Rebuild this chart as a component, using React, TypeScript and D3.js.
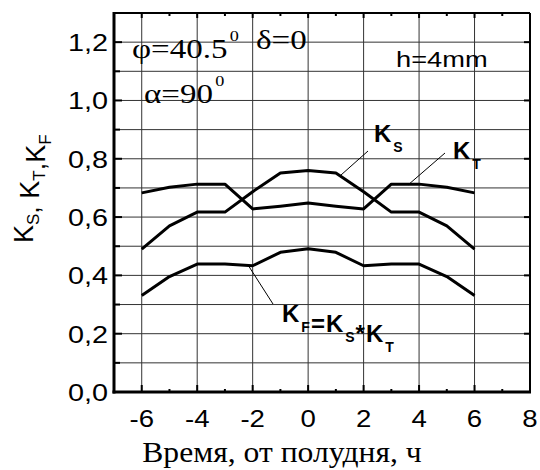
import React, { useEffect, useRef } from 'react';
import * as d3 from 'd3';

// hours from solar noon
const hours = [-6, -5, -4, -3, -2, -1, 0, 1, 2, 3, 4, 5, 6];
// K_S, K_T and their product K_F
const kS = [0.49, 0.57, 0.617, 0.617, 0.687, 0.751, 0.76, 0.751, 0.687, 0.617, 0.617, 0.57, 0.49];
const kT = [0.683, 0.702, 0.713, 0.713, 0.628, 0.637, 0.648, 0.637, 0.628, 0.713, 0.713, 0.702, 0.683];
const kF = [0.331, 0.396, 0.439, 0.439, 0.433, 0.479, 0.491, 0.479, 0.433, 0.439, 0.439, 0.396, 0.331];

const xTicks = [-6, -4, -2, 0, 2, 4, 6, 8];
const yTicks = [0, 0.2, 0.4, 0.6, 0.8, 1.0, 1.2];

const SANS = 'Liberation Sans, Arial, sans-serif';
const SERIF = 'Liberation Serif, Times New Roman, serif';

const W = 540;
const H = 470;

const App = () => {
  const ref = useRef<SVGSVGElement>(null);

  useEffect(() => {
    const svg = d3.select(ref.current);
    svg.selectAll('*').remove();

    const x = d3.scaleLinear().domain([-7, 8]).range([114, 530]);
    const y = d3.scaleLinear().domain([0, 1.3]).range([392, 13]);

    // grid
    const grid = svg.append('g').attr('stroke', '#333').attr('stroke-width', 1);
    grid.selectAll('line.v')
      .data(d3.range(-6, 7, 2))
      .enter()
      .append('line')
      .attr('x1', d => x(d)).attr('x2', d => x(d))
      .attr('y1', y(0)).attr('y2', y(1.3));
    grid.selectAll('line.h')
      .data(d3.range(1, 13).map(d => d / 10))
      .enter()
      .append('line')
      .attr('y1', d => y(d)).attr('y2', d => y(d))
      .attr('x1', x(-7)).attr('x2', x(8));

    // ticks (inward)
    const ticks = svg.append('g').attr('stroke', '#000');
    ticks.selectAll('line.yl')
      .data(d3.range(1, 13).map(d => d / 10))
      .enter()
      .append('line')
      .attr('stroke-width', 2)
      .attr('x1', x(-7)).attr('x2', (d, i) => x(-7) + (i % 2 === 1 ? 8 : 6))
      .attr('y1', d => y(d)).attr('y2', d => y(d));
    ticks.selectAll('line.yr')
      .data(yTicks.slice(1))
      .enter()
      .append('line')
      .attr('stroke-width', 2)
      .attr('x1', x(8)).attr('x2', x(8) - 6)
      .attr('y1', d => y(d)).attr('y2', d => y(d));
    ticks.selectAll('line.xb')
      .data(d3.range(-6, 8))
      .enter()
      .append('line')
      .attr('stroke-width', 2)
      .attr('x1', d => x(d)).attr('x2', d => x(d))
      .attr('y1', y(0)).attr('y2', d => y(0) - (d % 2 === 0 ? 7 : 3));
    ticks.selectAll('line.xt')
      .data(d3.range(-6, 8))
      .enter()
      .append('line')
      .attr('stroke-width', 2)
      .attr('x1', d => x(d)).attr('x2', d => x(d))
      .attr('y1', y(1.3)).attr('y2', d => y(1.3) + (d % 2 === 0 ? 5 : 3));

    // frame
    svg.append('line').attr('x1', x(-7)).attr('x2', x(8)).attr('y1', y(1.3)).attr('y2', y(1.3))
      .attr('stroke', '#000').attr('stroke-width', 2);
    svg.append('line').attr('x1', x(8)).attr('x2', x(8)).attr('y1', y(1.3)).attr('y2', y(0))
      .attr('stroke', '#000').attr('stroke-width', 2);
    svg.append('line').attr('x1', x(-7)).attr('x2', x(-7)).attr('y1', y(1.3) - 1).attr('y2', y(0) + 1.5)
      .attr('stroke', '#000').attr('stroke-width', 3);
    svg.append('line').attr('x1', x(-7) - 1.5).attr('x2', x(8) + 1).attr('y1', y(0)).attr('y2', y(0))
      .attr('stroke', '#000').attr('stroke-width', 3);

    // tick labels
    svg.selectAll('text.yt')
      .data(yTicks)
      .enter()
      .append('text')
      .attr('transform', d => `translate(108,${y(d) + 9}) scale(1.2,1)`)
      .attr('text-anchor', 'end')
      .attr('font-family', SANS)
      .attr('font-size', 24)
      .text(d => d3.format('.1f')(d).replace('.', ','));
    svg.selectAll('text.xt')
      .data(xTicks)
      .enter()
      .append('text')
      .attr('transform', d => `translate(${x(d)},427) scale(1.2,1)`)
      .attr('text-anchor', 'middle')
      .attr('font-family', SANS)
      .attr('font-size', 23)
      .text(d => d);

    // curves
    const line = d3.line<number>()
      .x((d, i) => x(hours[i]))
      .y(d => y(d));
    [kS, kT, kF].forEach(s => {
      svg.append('path')
        .attr('d', line(s))
        .attr('fill', 'none')
        .attr('stroke', '#000')
        .attr('stroke-width', 3)
        .attr('stroke-linejoin', 'round');
    });

    // leader lines
    const leaders = [
      [368, 151, 341, 175],
      [445, 153, 408, 185],
      [273, 304, 248, 265],
    ];
    svg.selectAll('line.ld')
      .data(leaders)
      .enter()
      .append('line')
      .attr('x1', d => d[0]).attr('y1', d => d[1])
      .attr('x2', d => d[2]).attr('y2', d => d[3])
      .attr('stroke', '#000').attr('stroke-width', 1);

    // bold curve labels with subscripts
    const klabel = (px: number, py: number, parts: [string, string][]) => {
      const t = svg.append('text')
        .attr('x', px).attr('y', py)
        .attr('font-family', SANS)
        .attr('font-weight', 'bold')
        .attr('font-size', 24)
        .attr('letter-spacing', 1);
      parts.forEach(([main, sub]) => {
        t.append('tspan').attr('font-size', 24).attr('dy', 0).text(main);
        t.append('tspan').attr('font-size', 14).attr('dx', 1).attr('dy', 10).text(sub);
        t.append('tspan').attr('dy', -10).text('');
      });
    };
    klabel(374, 142, [['K', 'S']]);
    klabel(453, 159, [['K', 'T']]);
    klabel(282, 322, [['K', 'F'], ['=K', 'S'], ['*K', 'T']]);

    // parameter annotations
    const note = (px: number, py: number, main: string, sup: string, font: string, size: number, sx: number) => {
      const t = svg.append('text')
        .attr('transform', `translate(${px},${py}) scale(${sx},1)`)
        .attr('font-family', font)
        .attr('font-size', size);
      t.append('tspan').text(main);
      if (sup) t.append('tspan').attr('font-size', size * 0.55).attr('dx', 2).attr('dy', -17).text(sup);
    };
    note(132, 58, 'φ=40.5', '0', SERIF, 28, 1.18);
    note(256, 49, 'δ=0', '', SERIF, 28, 1.18);
    note(144, 103, 'α=90', '0', SERIF, 28, 1.18);
    note(396, 67, 'h=4mm', '', SANS, 22, 1.24);

    // axis titles
    svg.append('text')
      .attr('transform', 'translate(282,462) scale(1.09,1)')
      .attr('text-anchor', 'middle')
      .attr('font-family', SERIF)
      .attr('font-size', 29)
      .text('Время, от полудня, ч');

    const yt = svg.append('text')
      .attr('transform', 'translate(33,243) rotate(-90)')
      .attr('font-family', SANS)
      .attr('font-size', 27);
    const ySeg: [string, string][] = [['K', 'S'], [', K', 'T'], [',K', 'F']];
    ySeg.forEach(([main, sub]) => {
      yt.append('tspan').attr('font-size', 27).text(main);
      yt.append('tspan').attr('font-size', 17).attr('dy', 6).text(sub);
      yt.append('tspan').attr('dy', -6).text('');
    });
  }, []);

  return (
    <svg
      ref={ref}
      width={W}
      height={H}
      style={{ position: 'absolute', left: 0, top: 0, background: '#fff' }}
    />
  );
};

export default App;
